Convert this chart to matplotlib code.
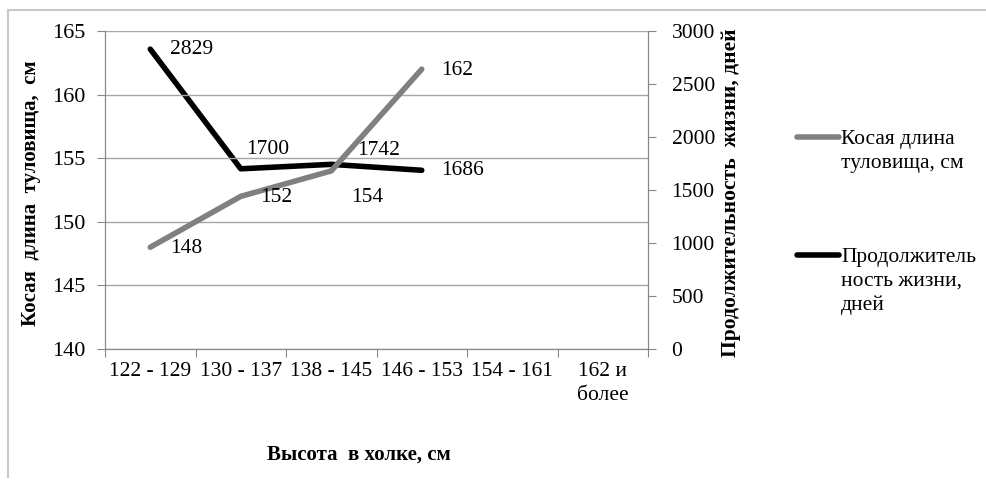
import matplotlib
matplotlib.use("Agg")
import matplotlib.pyplot as plt
from matplotlib.lines import Line2D

plt.rcParams['font.family'] = ['Liberation Serif', 'DejaVu Serif']

# data
categories = ["122 - 129", "130 - 137", "138 - 145", "146 - 153", "154 - 161", "162 и\nболее"]
body_length = [148, 152, 154, 162]
lifespan = [2829, 1700, 1742, 1686]
body_name = "Косая длина\nтуловища, см"
life_name = "Продолжитель\nность жизни,\nдней"

# label offsets in points (x, y)
body_offsets = [(14, -1), (14, -1), (14, -19), (14, -1)]
life_offsets = [(14, 0), (4, 14), (19, 10), (14, 0)]

W, H = 987, 486
fig = plt.figure(figsize=(W / 100, H / 100), dpi=100)
ax = fig.add_axes([105 / W, 1 - 349 / H, 543 / W, 318 / H])
ax2 = ax.twinx()

gray = "#808080"
x = list(range(len(body_length)))
fs = 15.5

ax.set_xlim(-0.5, len(categories) - 0.5)
ax.set_ylim(140, 165)
ax.set_yticks(range(140, 166, 5))
ax2.set_ylim(0, 3000)
ax2.set_yticks(range(0, 3001, 500))

ax.grid(axis='y', color='#a6a6a6', linewidth=1)
ax.set_axisbelow(True)

ax.set_xticks([i - 0.5 for i in range(len(categories) + 1)])
ax.set_xticklabels([])
ax.set_xticks(range(len(categories)), minor=True)
ax.set_xticklabels(categories, minor=True, fontsize=fs)
ax.tick_params(axis='x', which='major', length=6, color='#888888', direction='out')
ax.tick_params(axis='x', which='minor', length=0, pad=9)
ax.tick_params(axis='y', length=6, color='#888888', labelsize=fs + 0.5, pad=8)
ax2.tick_params(axis='y', length=6, color='#888888', labelsize=fs, pad=11)
for lbl in ax.get_xticklabels(minor=True):
    lbl.set_linespacing(1.4)

for a in (ax, ax2):
    a.spines['top'].set_visible(False)
    for s in ('left', 'right', 'bottom'):
        a.spines[s].set_color('#888888')

ax.plot(x, body_length, color=gray, linewidth=4, solid_capstyle='round', zorder=3)
ax2.plot(x, lifespan, color='black', linewidth=4, solid_capstyle='round', zorder=3)
ax.set_zorder(ax2.get_zorder() + 1)
ax.patch.set_visible(False)

for xi, v, off in zip(x, body_length, body_offsets):
    ax.annotate(str(v), (xi, v), xytext=off, textcoords='offset points',
                fontsize=fs, va='center', ha='left')
for xi, v, off in zip(x, lifespan, life_offsets):
    ax2.annotate(str(v), (xi, v), xytext=off, textcoords='offset points',
                 fontsize=fs, va='center', ha='left')

ax.set_ylabel("Косая  длина  туловища,  см", fontsize=15, fontweight='bold')
ax.yaxis.set_label_coords((41 - 105) / 543, 0.49)
ax2.set_ylabel("Продолжительность  жизни, дней", fontsize=15.5, fontweight='bold')
ax2.yaxis.set_label_coords((721 - 105) / 543, 0.49)
ax.set_xlabel("Высота  в холке, см", fontsize=15, fontweight='bold')
ax.xaxis.set_label_coords((359 - 105) / 543, -(445 - 349) / 318)

# legend drawn by hand, to the right of the plot
for name, col, ypx in [(body_name, gray, 137), (life_name, 'black', 255)]:
    fig.add_artist(Line2D([797 / W, 839 / W], [1 - ypx / H] * 2, color=col,
                          linewidth=4, solid_capstyle='round', transform=fig.transFigure))
    fig.text(841 / W, 1 - (ypx - 7) / H, name, fontsize=fs, va='top', ha='left',
             linespacing=1.35)

# outer chart frame
fig.add_artist(Line2D([8 / W, 1], [1 - 10.5 / H] * 2, color='#c8c8c8', linewidth=1.5,
                      transform=fig.transFigure))
fig.add_artist(Line2D([8 / W, 8 / W], [1 - 10.5 / H, 1 - 477 / H], color='#c8c8c8',
                      linewidth=1.5, transform=fig.transFigure))

fig.savefig("out.png", dpi=100)
